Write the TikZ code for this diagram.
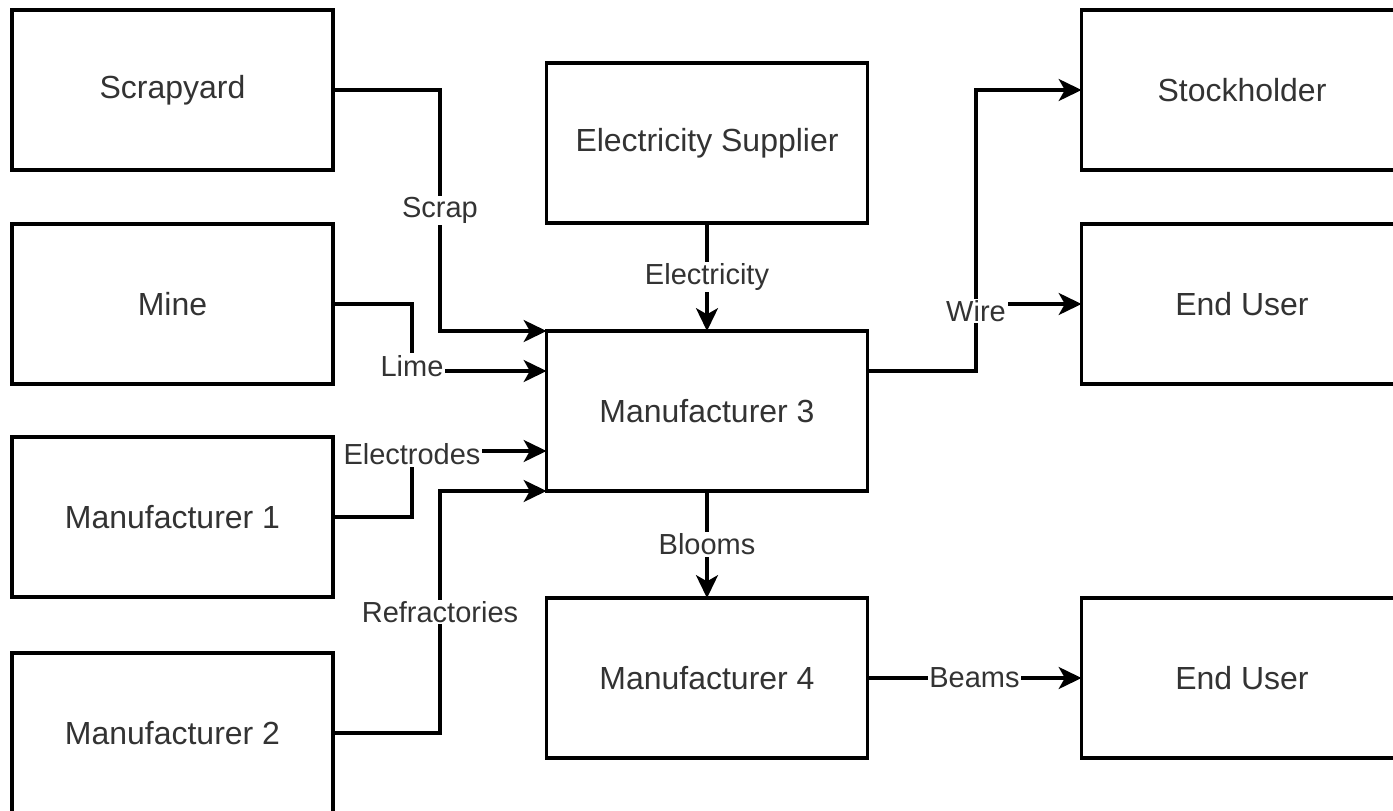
\documentclass[tikz,border=0pt]{standalone}
\usepackage{fontspec}
\setmainfont{Liberation Sans}
\usetikzlibrary{arrows.meta,calc}

\begin{document}
\begin{tikzpicture}[
    >={Stealth[length=13pt,width=12.5pt,inset=3.5pt]},
    x=0.02cm,
    y=-0.02cm,
    line width=1.9pt,
    box/.style={draw, rectangle, minimum width=6.42cm, minimum height=3.2cm,
        inner sep=0pt, outer sep=0pt, text=black!80,
        font=\fontsize{18.2}{22}\selectfont},
    flow/.style={->, draw},
    lbl/.style={fill=white, inner sep=1pt, text=black!80,
        font=\fontsize{16.5}{20}\selectfont}
]

% page frame (boxes at the edge are cut)
\useasboundingbox (0,0) rectangle (1393,811);
\clip (0,0) rectangle (1393,811);

% bend columns
\coordinate (busA) at (440,0);   % scrap / refractories
\coordinate (busB) at (412,0);   % lime / electrodes
\coordinate (busR) at (976,0);   % wire

% ---------------- suppliers ----------------
\node[box] (scrap) at (172.5,90)  {Scrapyard};
\node[box] (mine)  at (172.5,304) {Mine};
\node[box] (man1)  at (172.5,517) {Manufacturer 1};
\node[box] (man2)  at (172.5,733) {Manufacturer 2};

% ---------------- middle column ----------------
\node[box] (elec) at (707,143) {Electricity Supplier};
\node[box] (man3) at (707,411) {Manufacturer 3};
\node[box] (man4) at (707,678) {Manufacturer 4};

% ---------------- customers ----------------
\node[box] (stock) at (1242,90)  {Stockholder};
\node[box] (user1) at (1242,304) {End User};
\node[box] (user2) at (1242,678) {End User};

% entry points on Manufacturer 3
\coordinate (inLime)  at ($(man3.north west)!0.25!(man3.south west)$);
\coordinate (inElec)  at ($(man3.north west)!0.75!(man3.south west)$);
\coordinate (outWire) at ($(man3.north east)!0.25!(man3.south east)$);

% ---------------- inputs ----------------
\draw[flow] (scrap.east) -| node[lbl, pos=0.75] {Scrap} (busA |- man3.north west) -- (man3.north west);
\draw[flow] (mine.east) -| (busB |- inLime) node[lbl, yshift=3pt] {Lime} -- (inLime);
\draw[flow] (man1.east) -| (busB |- inElec) node[lbl, yshift=-2pt] {Electrodes} -- (inElec);
\draw[flow] (man2.east) -| node[lbl, pos=0.75] {Refractories} (busA |- man3.south west) -- (man3.south west);
\draw[flow] (elec.south) -- node[lbl] {Electricity} (man3.north);

% ---------------- outputs ----------------
\draw[flow] (man3.south) -- node[lbl] {Blooms} (man4.north);
\draw[flow] (outWire) -| (busR |- stock.west) -- (stock.west);
\draw[flow] (outWire) -| (busR |- user1.west) node[lbl, yshift=-4pt] {Wire} -- (user1.west);
\draw[flow] (man4.east) -- node[lbl] {Beams} (user2.west);

\end{tikzpicture}
\end{document}
